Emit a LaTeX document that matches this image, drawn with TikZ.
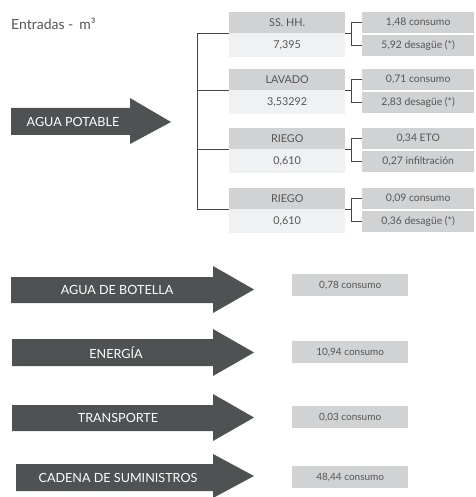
\documentclass[tikz,border=0pt]{standalone}
\usepackage{fontspec}
\setmainfont{Lato}
\definecolor{arrowgray}{HTML}{4F5253}
\definecolor{hdrgray}{HTML}{D1D2D4}
\definecolor{valgray}{HTML}{F0F1F3}
\definecolor{txtgray}{HTML}{555555}
\definecolor{linegray}{HTML}{444444}
\begin{document}
\begin{tikzpicture}[x=1pt,y=-1pt,
  arrowtxt/.style={text=white,font=\fontsize{12.6}{14}\selectfont,inner sep=0pt},
  hdrbox/.style={fill=hdrgray,text=txtgray,font=\fontsize{10.8}{12}\selectfont,minimum width=116pt,minimum height=21pt,inner sep=0pt,anchor=north west},
  valbox/.style={fill=valgray,text=txtgray,font=\fontsize{10.8}{12}\selectfont,minimum width=116pt,minimum height=24pt,inner sep=0pt,anchor=north west},
  outbox/.style={fill=hdrgray,text=txtgray,font=\fontsize{10.4}{12}\selectfont,minimum width=112pt,minimum height=21pt,inner sep=0pt,anchor=north west},
  resbox/.style={fill=hdrgray,text=txtgray,font=\fontsize{10}{12}\selectfont,minimum width=116pt,minimum height=22pt,inner sep=0pt,anchor=north west},
  conn/.style={draw=linegray,line width=0.8pt}]
\useasboundingbox (0,0) rectangle (475,497);
% title
\node[anchor=base west,text=txtgray,font=\fontsize{14}{16}\selectfont,inner sep=0pt] (title) at (11,30) {Entradas - \,m³};
% AGUA POTABLE arrow
\fill[arrowgray] (11,108) -- (130,108) -- (130,98) -- (171,122) -- (130,144) -- (130,135) -- (11,135) -- cycle;
\node[arrowtxt] (agua) at (73,122) {AGUA POTABLE};
% middle boxes
\node[hdrbox] (h1) at (229,12) {SS. HH.};
\node[valbox] (v1) at (229,33) {7,395};
\node[hdrbox] (h2) at (229,69) {LAVADO};
\node[valbox] (v2) at (229,90) {3,53292};
\node[hdrbox] (h3) at (229,128) {RIEGO};
\node[valbox] (v3) at (229,149) {0,610};
\node[hdrbox] (h4) at (229,188) {RIEGO};
\node[valbox] (v4) at (229,209) {0,610};
% right boxes
\node[outbox] (o1a) at (362,12) {1,48 consumo};
\node[outbox] (o1b) at (362,35) {5,92 desagüe (*)};
\node[outbox] (o2a) at (362,69) {0,71 consumo};
\node[outbox] (o2b) at (362,92) {2,83 desagüe (*)};
\node[outbox] (o3a) at (362,128) {0,34 ETO};
\node[outbox] (o3b) at (362,151) {0,27 infiltración};
\node[outbox] (o4a) at (362,188) {0,09 consumo};
\node[outbox] (o4b) at (362,211) {0,36 desagüe (*)};
% big bracket
\coordinate (bx) at (197,0);
\draw[conn] (h1.south west) -- (h1.south west -| bx) -- (h4.south west -| bx) -- (h4.south west);
\draw[conn] (h2.south west -| bx) -- (h2.south west);
\draw[conn] (h3.south west -| bx) -- (h3.south west);
% small brackets
\foreach \h/\a/\b in {h1/o1a/o1b,h2/o2a/o2b,h3/o3a/o3b,h4/o4a/o4b}{
  \draw[conn] (\a.west) -- ++(-11,0) |- (\b.west);
  \draw[conn] (\h.south east) -- ++(6,0);
}
% other arrows
\fill[arrowgray] (11,277) -- (213,277) -- (213,266) -- (254,289.5) -- (213,313) -- (213,303) -- (11,303) -- cycle;
\node[arrowtxt] (bot) at (117,290) {AGUA DE BOTELLA};
\node[resbox] (r1) at (292,274) {0,78 consumo};
\fill[arrowgray] (12,339) -- (213,339) -- (213,329) -- (254,352.5) -- (213,376) -- (213,366) -- (12,366) -- cycle;
\node[arrowtxt] (ene) at (116,352.5) {ENERGÍA};
\node[resbox] (r2) at (292,341) {10,94 consumo};
\fill[arrowgray] (12,405) -- (213,405) -- (213,394) -- (254,417.5) -- (213,441) -- (213,431) -- (12,431) -- cycle;
\node[arrowtxt] (tra) at (118,418) {TRANSPORTE};
\node[resbox] (r3) at (292,406) {0,03 consumo};
\fill[arrowgray] (16,464) -- (213,464) -- (213,454) -- (254,476) -- (213,498) -- (213,491) -- (16,491) -- cycle;
\node[arrowtxt] (cad) at (118,477.5) {CADENA DE SUMINISTROS};
\node[resbox] (r4) at (292,466) {48,44 consumo};
\end{tikzpicture}
\end{document}
